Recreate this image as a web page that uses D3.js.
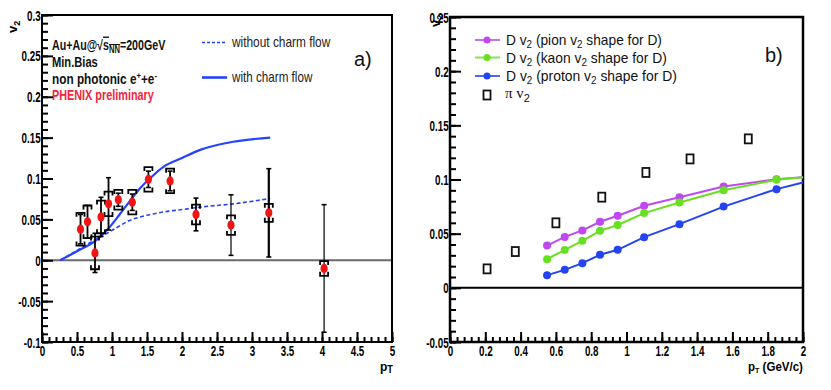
<!DOCTYPE html>
<html>
<head>
<meta charset="utf-8">
<script src="https://cdn.jsdelivr.net/npm/d3@7"></script>
<style>
	body { margin: 0; background: #fff; }
	svg { display: block; font-family: "Liberation Sans", Arial, Helvetica, sans-serif; }
</style>
</head>
<body>
<div id="chart"></div>
<script>

// ---- panel a) : non photonic electron v2 ----
var ePt      = [0.55, 0.65, 0.757, 0.843, 0.95, 1.09, 1.29, 1.52, 1.83, 2.2, 2.7, 3.24, 4.03]
var eV2      = [0.038, 0.047, 0.009, 0.053, 0.069, 0.074, 0.071, 0.099, 0.097, 0.056, 0.043, 0.058, -0.010]
var eStat    = [0.018, 0.020, 0.024, 0.024, 0.032, 0.008, 0.010, 0.010, 0.012, 0.020, 0.037, 0.054, 0.078]
var eSys     = [0.020, 0.020, 0.020, 0.020, 0.015, 0.012, 0.015, 0.015, 0.015, 0.012, 0.012, 0.011, 0.009]

var withPt   = [0.26, 0.5, 0.78, 0.95, 1.1, 1.26, 1.4, 1.54, 1.73, 2.0, 2.26, 2.73, 3.26]
var withV2   = [0, 0.011, 0.025, 0.039, 0.055, 0.073, 0.088, 0.100, 0.114, 0.125, 0.135, 0.145, 0.150]
var woPt     = [0.26, 0.5, 0.78, 0.97, 1.26, 1.5, 1.73, 2.0, 2.26, 2.73, 3.26]
var woV2     = [0, 0.012, 0.026, 0.035, 0.049, 0.055, 0.059, 0.062, 0.065, 0.069, 0.0755]

var aXTicks  = d3.range(0, 5.01, 0.5)
var aYTicks  = d3.range(-0.1, 0.301, 0.05)

// ---- panel b) : D v2 from quark coalescence ----
var dPt      = [0.55, 0.65, 0.75, 0.85, 0.95, 1.1, 1.3, 1.55, 1.85, 2.0]
var pionD    = [0.039, 0.047, 0.053, 0.061, 0.0665, 0.0757, 0.0837, 0.0935, 0.1003, 0.102]
var kaonD    = [0.0265, 0.035, 0.0434, 0.0526, 0.058, 0.069, 0.0788, 0.090, 0.0997, 0.102]
var protonD  = [0.0117, 0.0166, 0.0228, 0.0305, 0.0351, 0.0468, 0.0588, 0.075, 0.0911, 0.0972]
var piPt     = [0.21, 0.37, 0.6, 0.86, 1.11, 1.36, 1.69]
var piV2     = [0.0175, 0.0335, 0.060, 0.0837, 0.1065, 0.119, 0.1375]

var bXTicks  = d3.range(0, 2.001, 0.2)
var bYTicks  = d3.range(-0.05, 0.251, 0.05)

var dSeries  = [
	{ name: 'pion',   vals: pionD,   color: '#c048f0' },
	{ name: 'kaon',   vals: kaonD,   color: '#66e020' },
	{ name: 'proton', vals: protonD, color: '#2444f2' }
]

var W = 831, H = 390
var svg = d3.select('#chart').append('svg').attr('width', W).attr('height', H)
svg.append('rect').attr('width', W).attr('height', H).attr('fill', '#fff')

var fmt = function(d) {
	var v = +d.toFixed(3)
	return v === 0 ? '0' : String(v)
}

// text squeezed horizontally to a target width (the original uses a condensed face)
var fit = function(t, x, y, width) {
	var w = t.node().getBBox().width
	t.attr('transform', 'translate(' + x + ',' + y + ') scale(' + (width / w) + ',1)')
	return t
}

var drawAxes = function(g, x, y, xt, xMinor, yt, yMinor, frameW) {
	var x0 = x.range()[0], x1 = x.range()[1]
	var y0 = y.range()[0], y1 = y.range()[1]

	var xa = g.append('g').attr('transform', 'translate(0,' + y0 + ')')
		.call(d3.axisBottom(x).tickValues(xt).tickSize(-10).tickPadding(4).tickFormat(fmt))
	g.append('g').attr('transform', 'translate(0,' + y0 + ')')
		.call(d3.axisBottom(x).tickValues(xMinor).tickSize(-5).tickFormat(''))
	var ya = g.append('g').attr('transform', 'translate(' + x0 + ',0)')
		.call(d3.axisLeft(y).tickValues(yt).tickSize(-11).tickPadding(2).tickFormat(fmt))
	g.append('g').attr('transform', 'translate(' + x0 + ',0)')
		.call(d3.axisLeft(y).tickValues(yMinor).tickSize(-6).tickFormat(''))

	g.selectAll('.domain').remove()
	g.selectAll('.tick line').attr('stroke', '#000').attr('stroke-width', 2)
	g.selectAll('.tick text')
		.attr('fill', '#000')
		.attr('font-size', 14)
		.attr('font-weight', 'bold')
		.attr('font-family', '"Liberation Sans", Arial, sans-serif')
	xa.selectAll('.tick text').attr('transform', 'scale(0.7,1)')
	ya.selectAll('.tick text').attr('transform', 'scale(0.7,1)').attr('dy', '0.36em')

	g.append('rect')
		.attr('x', x0).attr('y', y1)
		.attr('width', x1 - x0).attr('height', y0 - y1)
		.attr('fill', 'none').attr('stroke', '#000').attr('stroke-width', frameW)
}

var minorOf = function(lo, hi, step) {
	return d3.range(Math.round((hi - lo) / step) + 1).map(function(i) { return +(lo + i * step).toFixed(4) })
}

// ================= panel a =================
var xA = d3.scaleLinear().domain([0, 5]).range([42, 392])
var yA = d3.scaleLinear().domain([-0.1, 0.3]).range([342, 15])
var gA = svg.append('g')

gA.append('line')
	.attr('x1', xA(0)).attr('x2', xA(5))
	.attr('y1', yA(0)).attr('y2', yA(0))
	.attr('stroke', '#6a6a6a').attr('stroke-width', 2)

drawAxes(gA, xA, yA, aXTicks.map(function(d) { return +d.toFixed(2) }), minorOf(0, 5, 0.1),
	aYTicks.map(function(d) { return +d.toFixed(2) }), minorOf(-0.1, 0.3, 0.01), 2)

var lineA = d3.line()
	.x(function(d) { return xA(d[0]) })
	.y(function(d) { return yA(d[1]) })
	.curve(d3.curveMonotoneX)

gA.append('path')
	.datum(woPt.map(function(p, i) { return [p, woV2[i]] }))
	.attr('d', lineA)
	.attr('fill', 'none').attr('stroke', '#2442ff').attr('stroke-width', 1.6)
	.attr('stroke-dasharray', '4,2.5')

gA.append('path')
	.datum(withPt.map(function(p, i) { return [p, withV2[i]] }))
	.attr('d', lineA)
	.attr('fill', 'none').attr('stroke', '#2442ff').attr('stroke-width', 2.2)

var pts = ePt.map(function(p, i) {
	return { pt: p, v2: eV2[i], stat: eStat[i], sys: eSys[i] }
})

var errs = gA.selectAll('g.pt')
	.data(pts)
	.enter()
	.append('g')
	.attr('class', 'pt')
	.each(function(d, i) {
		var _this = d3.select(this)
		var cx = xA(d.pt)
		var top = yA(d.v2 + d.stat), bot = yA(d.v2 - d.stat)
		var sw = (i === 11) ? 2.2 : (i >= 10 ? 1.2 : 1.8)

		_this.append('line')
			.attr('x1', cx).attr('x2', cx).attr('y1', top).attr('y2', bot)
			.attr('stroke', '#000').attr('stroke-width', sw)
		_this.selectAll('line.cap')
			.data([top, bot])
			.enter()
			.append('line')
			.attr('class', 'cap')
			.attr('x1', cx - 2.5).attr('x2', cx + 2.5)
			.attr('y1', function(v) { return v }).attr('y2', function(v) { return v })
			.attr('stroke', '#000').attr('stroke-width', 1.6)

		var sTop = yA(d.v2 + d.sys), sBot = yA(d.v2 - d.sys)
		_this.append('path')
			.attr('d', 'M' + (cx - 4) + ',' + (sTop + 4) + 'V' + sTop + 'H' + (cx + 4) + 'V' + (sTop + 4) +
				'M' + (cx - 4) + ',' + (sBot - 4) + 'V' + sBot + 'H' + (cx + 4) + 'V' + (sBot - 4))
			.attr('fill', 'none').attr('stroke', '#000').attr('stroke-width', 1.8)
	})

gA.selectAll('ellipse.mk')
	.data(pts)
	.enter()
	.append('ellipse')
	.attr('class', 'mk')
	.attr('cx', function(d) { return xA(d.pt) })
	.attr('cy', function(d) { return yA(d.v2) })
	.attr('rx', 3.6).attr('ry', 4.6)
	.attr('fill', '#f01414')

// text block
var t1 = gA.append('text').attr('font-size', 14).attr('font-weight', 'bold').attr('fill', '#111')
t1.append('tspan').text('Au+Au@√')
t1.append('tspan').text('s').style('text-decoration', 'overline')
t1.append('tspan').text('NN').attr('font-size', 10).attr('dy', 3).style('text-decoration', 'overline')
t1.append('tspan').text('=200GeV').attr('dy', -3)
fit(t1, 52, 50, 114)

fit(gA.append('text').attr('font-size', 14).attr('font-weight', 'bold').attr('fill', '#111').text('Min.Bias'), 52, 67, 46)

var t3 = gA.append('text').attr('font-size', 14).attr('font-weight', 'bold').attr('fill', '#111')
t3.append('tspan').text('non photonic e')
t3.append('tspan').text('+').attr('font-size', 9).attr('dy', -5)
t3.append('tspan').text('+e').attr('dy', 5)
t3.append('tspan').text('-').attr('font-size', 9).attr('dy', -5)
fit(t3, 52, 84, 105)

fit(gA.append('text').attr('font-size', 14).attr('font-weight', 'bold').attr('fill', '#f0243c').text('PHENIX preliminary'), 52, 100, 102)

// legend a
gA.append('line').attr('x1', 202).attr('x2', 227).attr('y1', 42.5).attr('y2', 42.5)
	.attr('stroke', '#2442ff').attr('stroke-width', 1.4).attr('stroke-dasharray', '3,2')
gA.append('line').attr('x1', 202).attr('x2', 227).attr('y1', 77.5).attr('y2', 77.5)
	.attr('stroke', '#2442ff').attr('stroke-width', 2.6)
fit(gA.append('text').attr('font-size', 14).attr('fill', '#222').text('without charm flow'), 232, 47, 100)
fit(gA.append('text').attr('font-size', 14).attr('fill', '#222').text('with charm flow'), 232, 82, 82)
gA.append('text').attr('x', 354).attr('y', 66).attr('font-size', 20).attr('fill', '#111').text('a)')

// axis titles a
var vA = gA.append('text').attr('font-size', 13).attr('font-weight', 'bold')
	.attr('transform', 'translate(17,33) rotate(-90)')
vA.append('tspan').text('v')
vA.append('tspan').text('2').attr('font-size', 9).attr('dy', 3)
var pA = gA.append('text').attr('font-size', 13).attr('font-weight', 'bold')
pA.append('tspan').text('p')
pA.append('tspan').text('T').attr('font-size', 10).attr('dy', 2)
fit(pA, 380, 371, 13)

// ================= panel b =================
var xB = d3.scaleLinear().domain([0, 2]).range([450, 803])
var yB = d3.scaleLinear().domain([-0.05, 0.25]).range([342, 17])
var gB = svg.append('g')

gB.append('line')
	.attr('x1', xB(0)).attr('x2', xB(2))
	.attr('y1', yB(0)).attr('y2', yB(0))
	.attr('stroke', '#000').attr('stroke-width', 2)

drawAxes(gB, xB, yB, bXTicks.map(function(d) { return +d.toFixed(2) }), minorOf(0, 2, 0.04),
	bYTicks.map(function(d) { return +d.toFixed(2) }), minorOf(-0.05, 0.25, 0.01), 2.5)

var lineB = d3.line()
	.x(function(d) { return xB(d[0]) })
	.y(function(d) { return yB(d[1]) })

dSeries.forEach(function(s) {
	var data = dPt.map(function(p, i) { return [p, s.vals[i]] })
	gB.append('path')
		.datum(data)
		.attr('d', lineB)
		.attr('fill', 'none').attr('stroke', s.color).attr('stroke-width', 2)
	gB.selectAll('circle.' + s.name)
		.data(data.filter(function(d) { return d[0] < 1.99 }))
		.enter()
		.append('circle')
		.attr('class', s.name)
		.attr('cx', function(d) { return xB(d[0]) })
		.attr('cy', function(d) { return yB(d[1]) })
		.attr('r', 4)
		.attr('fill', s.color)
})

gB.selectAll('rect.pi')
	.data(piPt.map(function(p, i) { return [p, piV2[i]] }))
	.enter()
	.append('rect')
	.attr('class', 'pi')
	.attr('x', function(d) { return xB(d[0]) - 3.5 })
	.attr('y', function(d) { return yB(d[1]) - 4.5 })
	.attr('width', 7).attr('height', 9)
	.attr('fill', '#fff').attr('stroke', '#111').attr('stroke-width', 1.8)

// legend b
var legRows = [40, 57.5, 76]
var legText = ['pion', 'kaon', 'proton']
var legW = [156, 161, 171]
dSeries.forEach(function(s, i) {
	gB.append('line').attr('x1', 475).attr('x2', 500).attr('y1', legRows[i]).attr('y2', legRows[i])
		.attr('stroke', s.color).attr('stroke-width', 2).attr('opacity', 0.8)
	gB.append('circle').attr('cx', 487).attr('cy', legRows[i]).attr('r', 3.5).attr('fill', s.color)
	var t = gB.append('text').attr('font-size', 14).attr('fill', '#111')
	t.append('tspan').text('D v')
	t.append('tspan').text('2').attr('font-size', 10).attr('dy', 3)
	t.append('tspan').text(' (' + legText[i] + ' v').attr('dy', -3)
	t.append('tspan').text('2').attr('font-size', 10).attr('dy', 3)
	t.append('tspan').text(' shape for D)').attr('dy', -3)
	fit(t, 506, legRows[i] + 5, legW[i])
})
gB.append('rect').attr('x', 483.5).attr('y', 90.5).attr('width', 7).attr('height', 9)
	.attr('fill', '#fff').attr('stroke', '#111').attr('stroke-width', 1.8)
var tp = gB.append('text').attr('font-size', 15).attr('fill', '#111')
tp.append('tspan').text('π v').attr('font-family', '"Liberation Serif", serif')
tp.append('tspan').text('2').attr('font-size', 11).attr('dy', 4)
fit(tp, 505, 98, 25)

gB.append('text').attr('x', 765).attr('y', 62).attr('font-size', 20).attr('fill', '#111').text('b)')

var vB = gB.append('text').attr('font-size', 13).attr('font-weight', 'bold')
	.attr('transform', 'translate(440,27) rotate(-90)')
vB.append('tspan').text('v')
vB.append('tspan').text('2').attr('font-size', 9).attr('dy', 3)

var pB = gB.append('text').attr('font-size', 13).attr('font-weight', 'bold')
pB.append('tspan').text('p')
pB.append('tspan').text('T').attr('font-size', 8).attr('dy', 2)
pB.append('tspan').text(' (GeV/c)').attr('dy', -2)
fit(pB, 748, 371, 55)

</script>
</body>
</html>
